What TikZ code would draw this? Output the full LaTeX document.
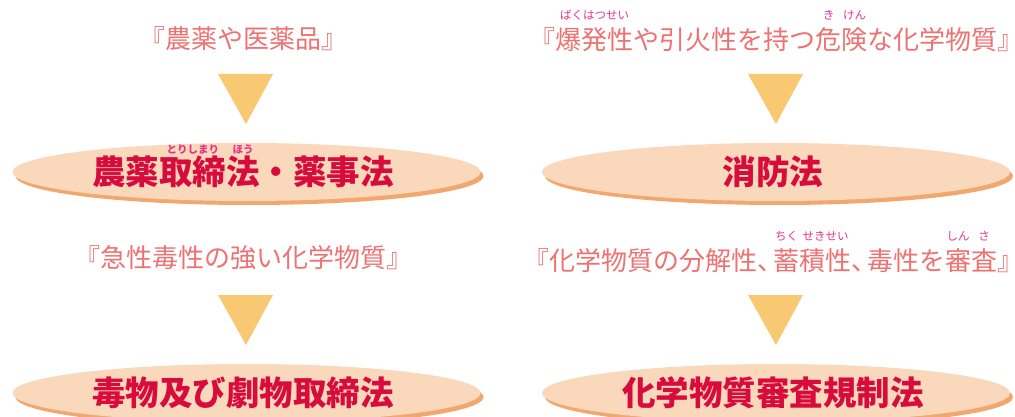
\documentclass[tikz,border=0pt]{standalone}
\usepackage{fontspec}
\usetikzlibrary{shapes.geometric,shadows}
\newfontfamily\jp{Noto Sans CJK JP}
\definecolor{salmon}{HTML}{EE7272}
\definecolor{rubyc}{HTML}{E6358A}
\definecolor{lawred}{HTML}{D80C3C}
\definecolor{tric}{HTML}{F9C872}
\definecolor{peach}{HTML}{FAD8BB}
\definecolor{shadowc}{HTML}{F2A76E}
\newcommand\rubyfont{\fontsize{11.5}{11.5}\selectfont}
\newcommand\rb[3][1.15em]{\leavevmode\setbox0\hbox{#2}\rlap{\hbox to\wd0{\hss\raisebox{#1}[0pt][0pt]{\rubyfont\color{rubyc}#3}\hss}}\box0}
\tikzset{
  srctext/.style={inner sep=0pt, text=salmon, font=\jp\fontsize{26}{26}\selectfont},
  lawell/.style={ellipse, fill=peach, minimum width=468pt, minimum height=58pt, inner sep=0pt,
     drop shadow={shadow xshift=3pt, shadow yshift=-4pt, fill=shadowc, opacity=1}},
  lawtext/.style={inner sep=0pt, text=lawred, font=\jp\bfseries\fontsize{33.5}{33.5}\selectfont},
  downtri/.style={fill=tric}
}
\begin{document}
\begin{tikzpicture}[x=1pt,y=-1pt]
\clip (0,0) rectangle (1015,417);
\fill[white] (0,0) rectangle (1015,417);
% top left
\node[srctext] (s1) at (243,39) {『農薬や医薬品』};
\fill[downtri] (218,74) -- (273,74) -- (246,124) -- cycle;
\node[lawell] (e1) at (246.5,172) {};
\node[lawtext] (l1) at (243,172) {農薬\rb[0.92em]{取締}{\fontsize{10.5}{10.5}\selectfont とりしまり}\rb[0.92em]{法}{\fontsize{10.5}{10.5}\selectfont ほう}・薬事法};
% top right
\node[srctext] (s2) at (776.5,40) {『\rb{爆発性}{ばくはつせい}や引火性を持つ\rb{危}{き}\rb{険}{けん}な化学物質』};
\fill[downtri] (748,74) -- (803,74) -- (776,124) -- cycle;
\node[lawell] (e2) at (776,172) {};
\node[lawtext] (l2) at (773,172) {消防法};
% bottom left
\node[srctext] (s3) at (243.5,258) {『急性毒性の強い化学物質』};
\fill[downtri] (218,295) -- (273,295) -- (246,345) -- cycle;
\node[lawell] (e3) at (246.5,393) {};
\node[lawtext] (l3) at (243,393) {毒物及び劇物取締法};
% bottom right
\node[srctext] (s4) at (773.5,261) {『化学物質の分解性、\kern-0.4em\rb{蓄}{ちく}\rb{積性}{せきせい}、\kern-0.4em毒性を\rb{審}{しん}\rb{査}{さ}』};
\fill[downtri] (748,295) -- (803,295) -- (776,345) -- cycle;
\node[lawell] (e4) at (776,393) {};
\node[lawtext] (l4) at (773,393) {化学物質審査規制法};
\end{tikzpicture}
\end{document}
